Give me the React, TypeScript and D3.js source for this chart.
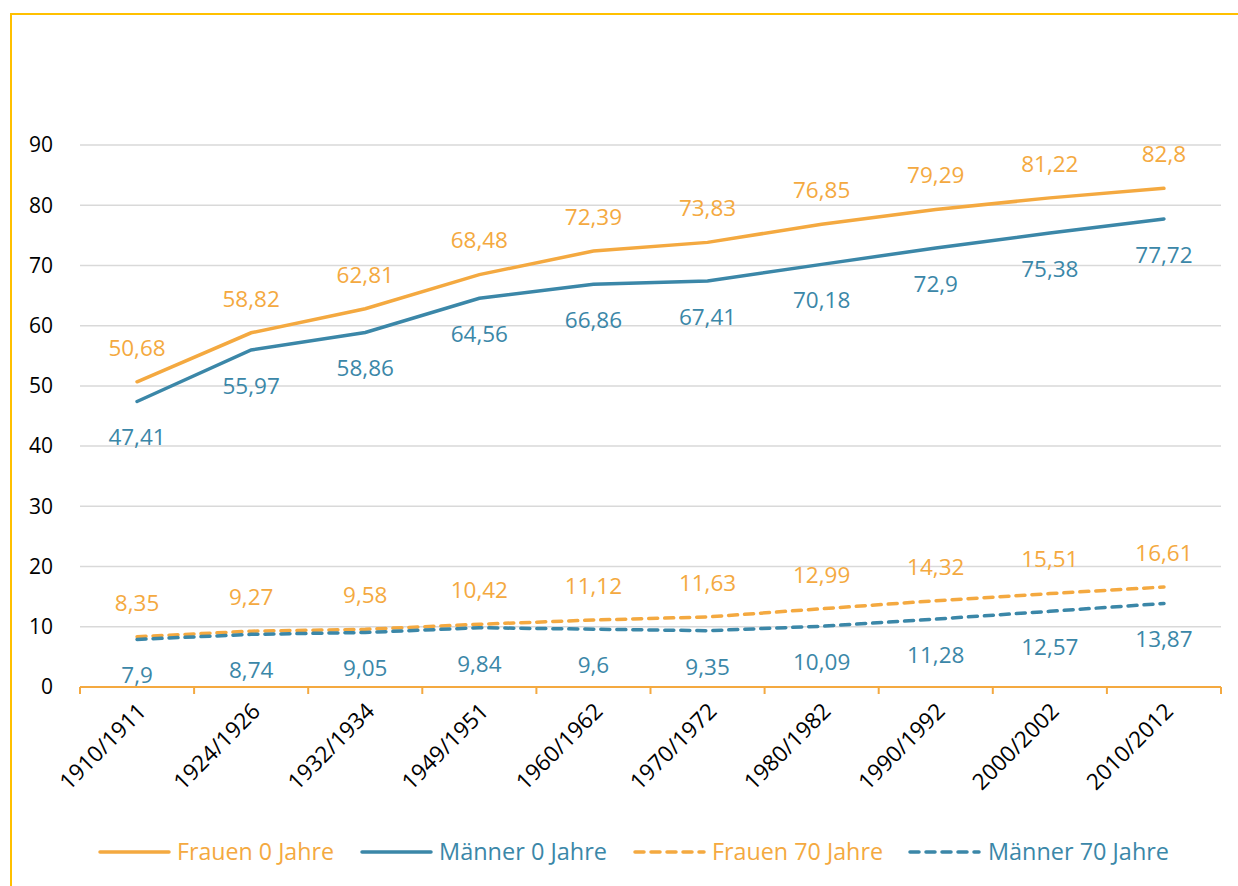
import * as d3 from "d3";

const categories = [
  "1910/1911", "1924/1926", "1932/1934", "1949/1951", "1960/1962",
  "1970/1972", "1980/1982", "1990/1992", "2000/2002", "2010/2012",
];
const frauen0 = [50.68, 58.82, 62.81, 68.48, 72.39, 73.83, 76.85, 79.29, 81.22, 82.8];
const maenner0 = [47.41, 55.97, 58.86, 64.56, 66.86, 67.41, 70.18, 72.9, 75.38, 77.72];
const frauen70 = [8.35, 9.27, 9.58, 10.42, 11.12, 11.63, 12.99, 14.32, 15.51, 16.61];
const maenner70 = [7.9, 8.74, 9.05, 9.84, 9.6, 9.35, 10.09, 11.28, 12.57, 13.87];
const yTicks = [0, 10, 20, 30, 40, 50, 60, 70, 80, 90];

const ORANGE = "#F4A940";
const BLUE = "#3B87A8";
const FONT = "'Open Sans', 'Noto Sans', sans-serif";

const series = [
  { name: "Frauen 0 Jahre", values: frauen0, color: ORANGE, dash: null, above: true },
  { name: "Männer 0 Jahre", values: maenner0, color: BLUE, dash: null, above: false },
  { name: "Frauen 70 Jahre", values: frauen70, color: ORANGE, dash: "9 7", above: true },
  { name: "Männer 70 Jahre", values: maenner70, color: BLUE, dash: "9 7", above: false },
];

const fmt = (v: number) => String(v).replace(".", ",");

export default function App() {
  const width = 1238;
  const height = 886;
  const left = 80;
  const right = 1221;
  const top = 145;
  const bottom = 687;

  const x = d3.scaleBand<string>().domain(categories).range([left, right]);
  const y = d3.scaleLinear().domain([0, 90]).range([bottom, top]);
  const cx = (c: string) => (x(c) ?? 0) + x.bandwidth() / 2;

  const line = d3
    .line<number>()
    .x((_, i) => cx(categories[i]))
    .y((d) => y(d));

  // legend: line start, text start, text width
  const legendItems = [
    { lx: 100, tx: 177, tw: 157 },
    { lx: 362, tx: 439, tw: 168 },
    { lx: 635, tx: 712, tw: 171 },
    { lx: 910, tx: 988, tw: 181 },
  ];

  return (
    <svg
      width={width}
      height={height}
      style={{ position: "absolute", left: 0, top: 0, background: "#fff" }}
    >
      <path d={`M11,${height} V14 H${width}`} fill="none" stroke="#FFC000" strokeWidth={2} />

      {yTicks.map((t) => (
        <g key={t}>
          {t > 0 && (
            <line x1={left} x2={right} y1={y(t)} y2={y(t)} stroke="#D9D9D9" strokeWidth={1.5} />
          )}
          <text
            x={53}
            y={y(t)}
            dy="0.35em"
            textAnchor="end"
            fontFamily={FONT}
            fontSize={21}
            fill="#000"
          >
            {t}
          </text>
        </g>
      ))}

      <line x1={left} x2={right} y1={bottom} y2={bottom} stroke={ORANGE} strokeWidth={2} />
      {d3.range(categories.length + 1).map((i) => {
        const tx = left + i * x.step();
        return <line key={i} x1={tx} x2={tx} y1={bottom} y2={bottom + 7} stroke={ORANGE} strokeWidth={2} />;
      })}

      {categories.map((c) => (
        <text
          key={c}
          transform={`translate(${cx(c) + 5},${bottom + 20}) rotate(-45)`}
          textAnchor="end"
          dy="0.35em"
          fontFamily={FONT}
          fontSize={22.5}
          fill="#000"
        >
          {c}
        </text>
      ))}

      {series.map((s) => (
        <path
          key={s.name}
          d={line(s.values) ?? ""}
          fill="none"
          stroke={s.color}
          strokeWidth={3.5}
          strokeLinecap="round"
          strokeDasharray={s.dash ?? undefined}
        />
      ))}

      {series.map((s) =>
        s.values.map((v, i) => (
          <text
            key={s.name + i}
            x={cx(categories[i])}
            y={y(v) + (s.above ? -34 : 36)}
            dy="0.35em"
            textAnchor="middle"
            fontFamily={FONT}
            fontSize={22.5}
            fill={s.color}
          >
            {fmt(v)}
          </text>
        ))
      )}

      {series.map((s, i) => (
        <g key={s.name}>
          <line
            x1={legendItems[i].lx}
            x2={legendItems[i].lx + 69}
            y1={852}
            y2={852}
            stroke={s.color}
            strokeWidth={3.5}
            strokeLinecap="round"
            strokeDasharray={s.dash ?? undefined}
          />
          <text
            x={legendItems[i].tx}
            y={852}
            dy="0.35em"
            fontFamily={FONT}
            fontSize={23.5}
            textLength={legendItems[i].tw}
            lengthAdjust="spacingAndGlyphs"
            fill={s.color}
          >
            {s.name}
          </text>
        </g>
      ))}
    </svg>
  );
}
